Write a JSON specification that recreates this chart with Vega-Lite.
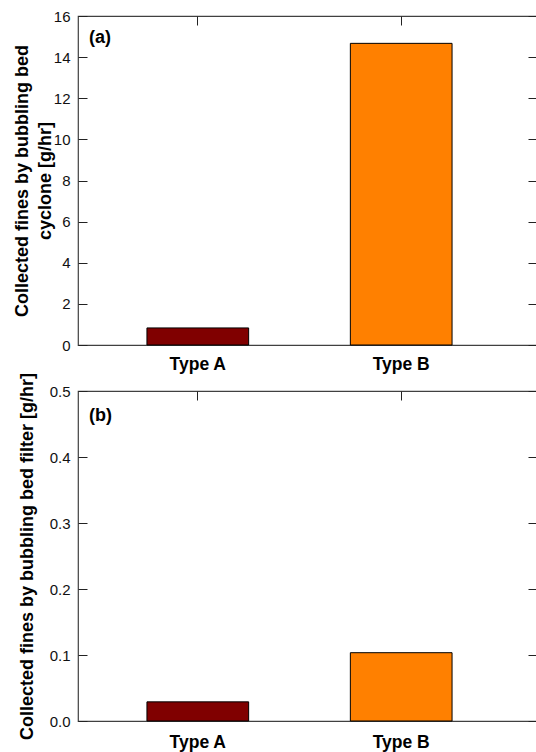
{
  "$schema": "https://vega.github.io/schema/vega-lite/v6.json",
  "padding": {"left": 12, "top": 8, "right": 0, "bottom": 0},
  "background": "white",
  "config": {
    "font": "Liberation Sans",
    "view": {"stroke": "#404040", "strokeWidth": 1.2},
    "axis": {"grid": false, "domain": false, "tickColor": "#222222", "labelFont": "Liberation Sans", "labelColor": "#111111", "labelFontSize": 15, "titleFont": "Liberation Sans", "titleColor": "#000000"}
  },
  "spacing": 46,
  "bounds": "flush",
  "vconcat": [
    {
      "width": 459,
      "height": 329,
      "title": {"text": "(a)", "anchor": "start", "frame": "group", "fontSize": 18, "fontWeight": "bold", "dx": 11, "dy": 46.5, "baseline": "middle", "offset": 0, "color": "#000000"},
      "data": {"values": [{"type": "Type A", "fines": 0.83}, {"type": "Type B", "fines": 14.67}]},
      "resolve": {"axis": {"x": "independent", "y": "independent"}},
      "layer": [
        {
          "mark": {"type": "bar", "stroke": "#000000", "strokeWidth": 1},
          "encoding": {
            "x": {"field": "type", "type": "nominal", "scale": {"range": [0, 443], "paddingInner": 0.5, "paddingOuter": 0.339},
                  "axis": {"orient": "bottom", "title": null, "ticks": false, "labelAngle": 0, "labelFontWeight": "bold", "labelFontSize": 17.5, "labelColor": "#000000", "labelPadding": 10}},
            "y": {"field": "fines", "type": "quantitative", "scale": {"domain": [0, 16], "nice": false},
                  "axis": {"orient": "left", "title": ["Collected fines by bubbling bed", "cyclone [g/hr]"], "values": [0, 2, 4, 6, 8, 10, 12, 14, 16], "format": "d", "tickSize": -9, "labelPadding": 17, "titleFontSize": 18, "titleFontWeight": "bold", "titleX": -47, "titleLineHeight": 23}},
            "color": {"field": "type", "type": "nominal", "scale": {"domain": ["Type A", "Type B"], "range": ["#800000", "#FF8000"]}, "legend": null}
          }
        },
        {
          "mark": {"type": "bar", "opacity": 0},
          "encoding": {
            "x": {"field": "type", "type": "nominal", "axis": {"orient": "top", "title": null, "labels": false, "tickSize": -9}},
            "y": {"field": "fines", "type": "quantitative", "axis": {"orient": "right", "title": null, "labels": false, "values": [0, 2, 4, 6, 8, 10, 12, 14, 16], "tickSize": -9}}
          }
        }
      ]
    },
    {
      "width": 459,
      "height": 330,
      "title": {"text": "(b)", "anchor": "start", "frame": "group", "fontSize": 18, "fontWeight": "bold", "dx": 11, "dy": 62, "baseline": "middle", "offset": 0, "color": "#000000"},
      "data": {"values": [{"type": "Type A", "fines": 0.029}, {"type": "Type B", "fines": 0.1035}]},
      "resolve": {"axis": {"x": "independent", "y": "independent"}},
      "layer": [
        {
          "mark": {"type": "bar", "stroke": "#000000", "strokeWidth": 1},
          "encoding": {
            "x": {"field": "type", "type": "nominal", "scale": {"range": [0, 443], "paddingInner": 0.5, "paddingOuter": 0.339},
                  "axis": {"orient": "bottom", "title": null, "ticks": false, "labelAngle": 0, "labelFontWeight": "bold", "labelFontSize": 17.5, "labelColor": "#000000", "labelPadding": 12}},
            "y": {"field": "fines", "type": "quantitative", "scale": {"domain": [0, 0.5], "nice": false},
                  "axis": {"orient": "left", "title": "Collected fines by bubbling bed filter [g/hr]", "values": [0, 0.1, 0.2, 0.3, 0.4, 0.5], "format": ".1f", "tickSize": -9, "labelPadding": 17, "titleFontSize": 18, "titleFontWeight": "bold", "titleX": -42}},
            "color": {"field": "type", "type": "nominal", "scale": {"domain": ["Type A", "Type B"], "range": ["#800000", "#FF8000"]}, "legend": null}
          }
        },
        {
          "mark": {"type": "bar", "opacity": 0},
          "encoding": {
            "x": {"field": "type", "type": "nominal", "axis": {"orient": "top", "title": null, "labels": false, "tickSize": -9}},
            "y": {"field": "fines", "type": "quantitative", "axis": {"orient": "right", "title": null, "labels": false, "values": [0, 0.1, 0.2, 0.3, 0.4, 0.5], "tickSize": -9}}
          }
        }
      ]
    }
  ]
}
